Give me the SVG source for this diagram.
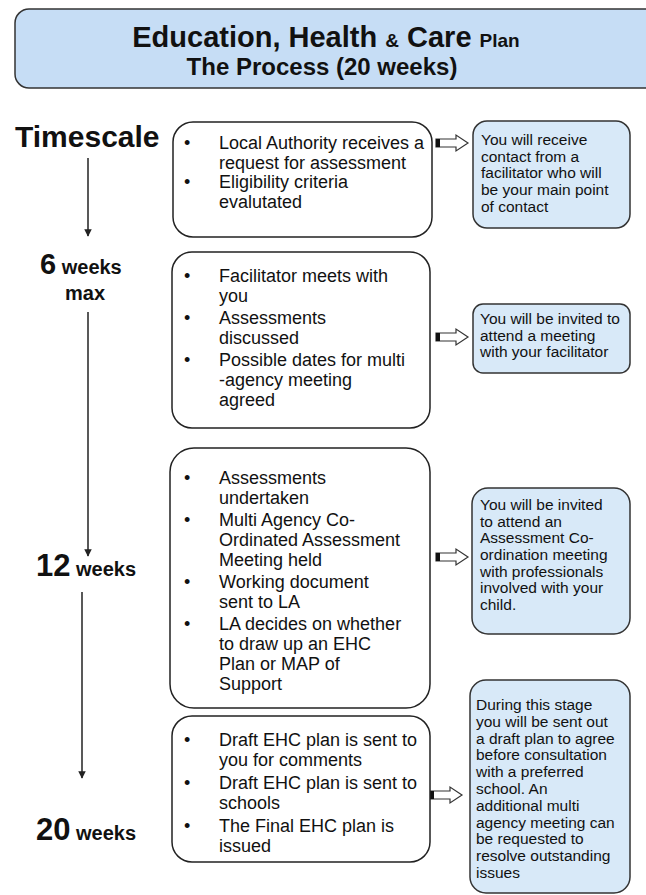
<svg xmlns="http://www.w3.org/2000/svg" width="646" height="895" viewBox="0 0 646 895">
<defs>
<style>
.hdr{fill:#c6ddf5;stroke:#333;stroke-width:1.5}
.box{fill:#fff;stroke:#222;stroke-width:1.5}
.note{fill:#d8e9f8;stroke:#333;stroke-width:1.5}
.t{font-family:"Liberation Sans",Arial,sans-serif;fill:#111}
.b{font-weight:bold}
.bx{font-size:18px}
.nt{font-size:15.5px}
.line{stroke:#222;stroke-width:1.5;fill:none}
.blk{fill:#fff;stroke:#333;stroke-width:1.2}
</style>
<marker id="ah" viewBox="0 0 10 10" refX="9" refY="5" markerWidth="5" markerHeight="5" orient="auto">
<path d="M0,0 L10,5 L0,10 Z" fill="#222"/>
</marker>
<g id="blockArrow">
<path class="blk" d="M0,-4 H20 V-8 L32,0 L20,8 V4 H0 Z"/>
<rect x="0" y="-4" width="4" height="8" fill="#111"/>
</g>
</defs>

<g id="header">
<rect class="hdr" x="15" y="9" width="650" height="79" rx="14"/>
<text class="t b" x="326" y="47" text-anchor="middle"><tspan font-size="29">Education, Health </tspan><tspan font-size="19">&amp;</tspan><tspan font-size="29"> Care </tspan><tspan font-size="19">Plan</tspan></text>
<text class="t b" x="322" y="75" text-anchor="middle" font-size="24">The Process (20 weeks)</text>
</g>

<g id="timescale">
<text class="t b" x="15" y="147" font-size="30">Timescale</text>
<text class="t b" x="40" y="274"><tspan font-size="29">6</tspan><tspan font-size="20"> weeks</tspan></text>
<text class="t b" x="65" y="300" font-size="20">max</text>
<text class="t b" x="36" y="576"><tspan font-size="31">12</tspan><tspan font-size="20"> weeks</tspan></text>
<text class="t b" x="36" y="840"><tspan font-size="31">20</tspan><tspan font-size="20"> weeks</tspan></text>
</g>

<g id="connectors">
<line class="line" x1="88" y1="158" x2="88" y2="236" marker-end="url(#ah)"/>
<line class="line" x1="88" y1="312" x2="88" y2="556" marker-end="url(#ah)"/>
<line class="line" x1="82" y1="592" x2="82" y2="778" marker-end="url(#ah)"/>
<use href="#blockArrow" x="436" y="143"/>
<use href="#blockArrow" x="436" y="337"/>
<use href="#blockArrow" x="436" y="557"/>
<use href="#blockArrow" x="430" y="795"/>
</g>

<g id="step1">
<rect class="box" x="173" y="122" width="259" height="115" rx="20"/>
<text class="t bx"><tspan x="184" y="149">•</tspan><tspan x="219" y="149">Local Authority receives a</tspan><tspan x="219" y="169">request for  assessment</tspan><tspan x="184" y="188">•</tspan><tspan x="219" y="188">Eligibility criteria</tspan><tspan x="219" y="208">evalutated</tspan></text>
</g>
<g id="note1">
<rect class="note" x="473" y="121" width="157" height="107" rx="14"/>
<text class="t nt"><tspan x="481" y="145">You will receive</tspan><tspan x="481" y="162">contact from a</tspan><tspan x="481" y="178">facilitator who will</tspan><tspan x="481" y="195">be your main point</tspan><tspan x="481" y="212">of contact</tspan></text>
</g>

<g id="step2">
<rect class="box" x="172" y="252" width="258" height="176" rx="20"/>
<text class="t bx"><tspan x="184" y="282">•</tspan><tspan x="219" y="282">Facilitator meets with</tspan><tspan x="219" y="302">you</tspan><tspan x="184" y="324">•</tspan><tspan x="219" y="324">Assessments</tspan><tspan x="219" y="344">discussed</tspan><tspan x="184" y="366">•</tspan><tspan x="219" y="366">Possible dates for multi</tspan><tspan x="219" y="386">-agency meeting</tspan><tspan x="219" y="406">agreed</tspan></text>
</g>
<g id="note2">
<rect class="note" x="473" y="304" width="157" height="69" rx="10"/>
<text class="t nt"><tspan x="480" y="324">You will be invited to</tspan><tspan x="480" y="341">attend a meeting</tspan><tspan x="480" y="357">with your facilitator</tspan></text>
</g>

<g id="step3">
<rect class="box" x="170" y="448" width="260" height="260" rx="24"/>
<text class="t bx"><tspan x="184" y="484">•</tspan><tspan x="219" y="484">Assessments</tspan><tspan x="219" y="504">undertaken</tspan><tspan x="184" y="526">•</tspan><tspan x="219" y="526">Multi Agency Co-</tspan><tspan x="219" y="546">Ordinated Assessment</tspan><tspan x="219" y="566">Meeting held</tspan><tspan x="184" y="588">•</tspan><tspan x="219" y="588">Working document</tspan><tspan x="219" y="608">sent to LA</tspan><tspan x="184" y="630">•</tspan><tspan x="219" y="630">LA decides on whether</tspan><tspan x="219" y="650">to draw up an EHC</tspan><tspan x="219" y="670">Plan or MAP of</tspan><tspan x="219" y="690">Support</tspan></text>
</g>
<g id="note3">
<rect class="note" x="472" y="488" width="158" height="146" rx="16"/>
<text class="t nt"><tspan x="480" y="510">You will be invited</tspan><tspan x="480" y="527">to attend an</tspan><tspan x="480" y="543">Assessment Co-</tspan><tspan x="480" y="560">ordination meeting</tspan><tspan x="480" y="577">with professionals</tspan><tspan x="480" y="593">involved with your</tspan><tspan x="480" y="610">child.</tspan></text>
</g>

<g id="step4">
<rect class="box" x="172" y="716" width="258" height="146" rx="20"/>
<text class="t bx"><tspan x="184" y="746">•</tspan><tspan x="219" y="746">Draft EHC plan is sent to</tspan><tspan x="219" y="766">you for comments</tspan><tspan x="184" y="789">•</tspan><tspan x="219" y="789">Draft EHC plan is sent to</tspan><tspan x="219" y="809">schools</tspan><tspan x="184" y="832">•</tspan><tspan x="219" y="832">The Final EHC plan is</tspan><tspan x="219" y="852">issued</tspan></text>
</g>
<g id="note4">
<rect class="note" x="470" y="680" width="160" height="213" rx="16"/>
<text class="t nt"><tspan x="476" y="710">During this stage</tspan><tspan x="476" y="727">you will be sent out</tspan><tspan x="476" y="744">a draft plan to agree</tspan><tspan x="476" y="760">before consultation</tspan><tspan x="476" y="777">with a preferred</tspan><tspan x="476" y="794">school.  An</tspan><tspan x="476" y="811">additional multi</tspan><tspan x="476" y="828">agency meeting can</tspan><tspan x="476" y="844">be requested to</tspan><tspan x="476" y="861">resolve outstanding</tspan><tspan x="476" y="878">issues</tspan></text>
</g>
</svg>
